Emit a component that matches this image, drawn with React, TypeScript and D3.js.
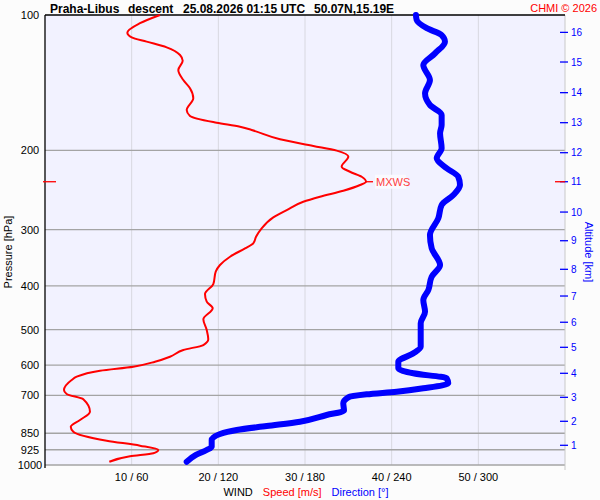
import React from "react";
import * as d3 from "d3";

// ---- data (pressure hPa / value) ----
const speedPressure = [100, 104.3, 109.5, 112.1, 114.6, 118.0, 122.7, 126.4, 132.5, 139.5, 145.5, 153.1, 162.6, 167.6, 173.5, 177.1, 180.1, 188.8, 195.4, 200.2, 206.4, 217.3, 223.0, 228.8, 234.7, 238.7, 245.8, 253.4, 260.0, 271.3, 281.6, 297.9, 311.0, 321.7, 330.0, 344.5, 359.4, 371.9, 396.1, 416.9, 433.6, 448.5, 474.5, 501.2, 525.6, 541.2, 555.2, 574.6, 589.5, 604.7, 617.2, 636.4, 647.3, 681.3, 695.4, 714.5, 761.3, 794.3, 822.0, 843.3, 883.1, 905.9, 926.1, 941.8, 956.6, 983.3];
const speedValues = [13.27, 10.96, 9.5, 10.0, 11.73, 14.04, 15.58, 15.89, 15.38, 15.96, 16.73, 17.11, 16.35, 16.73, 19.81, 22.5, 23.85, 27.12, 30.96, 33.66, 35.0, 34.23, 35.19, 36.54, 37.04, 36.35, 34.42, 31.73, 29.8, 27.89, 26.34, 25.0, 24.35, 24.03, 23.08, 21.35, 20.19, 19.7, 19.42, 18.46, 18.66, 19.35, 18.27, 18.66, 18.84, 18.27, 15.96, 14.42, 12.69, 10.19, 6.35, 3.66, 3.08, 2.19, 2.5, 4.42, 5.19, 4.04, 2.97, 3.27, 7.12, 10.96, 13.07, 12.5, 9.81, 7.42];

const dirPressure = [100, 102.6, 107.0, 110.8, 114.6, 121.7, 129.2, 139.5, 149.3, 158.5, 166.8, 175.5, 183.2, 197.7, 208.1, 219.1, 228.8, 238.7, 251.2, 264.4, 283.0, 308.3, 330.0, 359.4, 381.6, 408.4, 429.9, 456.4, 484.2, 545.9, 564.7, 589.5, 609.7, 625.5, 641.7, 658.3, 675.4, 687.3, 696.5, 707.3, 729.3, 757.0, 774.3, 801.2, 819.1, 836.0, 853.3, 879.9, 910.6, 926.1, 950.1, 983.3];
const dirValues = [256.8, 257.3, 264.3, 274.6, 276.9, 270.0, 261.9, 266.5, 263.1, 266.5, 274.6, 274.6, 273.5, 274.6, 271.2, 278.1, 286.1, 287.3, 282.7, 274.6, 272.3, 266.5, 267.7, 273.5, 267.7, 265.4, 261.9, 263.1, 260.1, 260.1, 255.0, 244.6, 244.6, 255.0, 278.1, 279.2, 261.9, 243.5, 222.7, 210.0, 206.5, 207.0, 195.0, 176.5, 153.5, 132.7, 121.2, 115.4, 115.4, 111.9, 104.5, 98.1];

const pressureTicks = [100, 200, 300, 400, 500, 600, 700, 850, 925, 1000];
const speedTicks = [10, 20, 30, 40, 50];
const dirTicks = [60, 120, 180, 240, 300];
const altitudeKm = [1, 2, 3, 4, 5, 6, 7, 8, 9, 10, 11, 12, 13, 14, 15, 16];
const altitudePressure = [904.1, 799.6, 707.3, 625.5, 547.6, 481.7, 421.2, 367.4, 317.4, 274.1, 234.7, 202.3, 173.5, 148.8, 127.2, 109.3];

const maxWindPressure = 234.7;
const maxWindSpeed = 37.04;

const titleParts = ["Praha-Libus", "descent", "25.08.2026 01:15 UTC", "50.07N,15.19E"];
const titleX = [50, 128, 183, 314];

export default function App() {
  React.useEffect(() => {
    document.body.style.margin = "0";
    document.body.style.background = "#fcfcfc";
  }, []);

  const W = 600, H = 500;
  const left = 45, right = 565, top = 15, bottom = 465;
  const font = "'Liberation Sans', Arial, sans-serif";

  const y = d3.scaleLog().domain([100, 1000]).range([top, bottom]);
  const xs = d3.scaleLinear().domain([0, 60]).range([left, right]);
  const xd = d3.scaleLinear().domain([0, 360]).range([left, right]);

  const speedLine = d3.line<number>()
    .x((_, i) => xs(speedValues[i]))
    .y((_, i) => y(speedPressure[i]))
    .curve(d3.curveMonotoneY);
  const dirLine = d3.line<number>()
    .x((_, i) => xd(dirValues[i]))
    .y((_, i) => y(dirPressure[i]))
    .curve(d3.curveMonotoneY);

  const mwY = y(maxWindPressure);
  const mwX = xs(maxWindSpeed);

  return (
    <svg width={W} height={H} style={{ position: "absolute", left: 0, top: 0, background: "#fcfcfc" }} fontFamily={font}>
      <rect x={0} y={0} width={W} height={H} fill="#fcfcfc" />
      <rect x={left} y={top} width={right - left} height={bottom - top} fill="#f2f2ff" />
      {/* vertical grid */}
      {speedTicks.map((t) => (
        <line key={"v" + t} x1={xs(t)} x2={xs(t)} y1={top} y2={bottom} stroke="#d8d8e0" strokeWidth={1} />
      ))}
      {/* horizontal grid */}
      {pressureTicks.slice(1).map((p) => (
        <line key={"h" + p} x1={left} x2={right} y1={y(p)} y2={y(p)} stroke="#a4a4a4" strokeWidth={1.3} />
      ))}
      {/* right border */}
      <line x1={right} x2={right} y1={top} y2={bottom + 5} stroke="#c8c8c8" strokeWidth={1} />
      {/* top & left borders */}
      <line x1={left} x2={right} y1={top} y2={top} stroke="#000" strokeWidth={1.3} />
      <line x1={left} x2={left} y1={top} y2={bottom + 3} stroke="#000" strokeWidth={1.3} />

      {/* pressure labels */}
      {pressureTicks.map((p) => (
        <text key={"pl" + p} x={30} y={y(p) + 4} fontSize={11} textAnchor="middle" fill="#000">{p}</text>
      ))}
      <text transform={`translate(12,252) rotate(-90)`} fontSize={11} textAnchor="middle" fill="#000">Pressure [hPa]</text>

      {/* x labels */}
      {speedTicks.map((t, i) => (
        <text key={"xl" + t} x={xs(t)} y={481} fontSize={11} textAnchor="middle" fill="#000">{`${t} / ${dirTicks[i]}`}</text>
      ))}
      <text x={306} y={496} fontSize={11} textAnchor="middle">
        <tspan fill="#000">WIND</tspan>
        <tspan fill="#ff0000" dx={10}>Speed [m/s]</tspan>
        <tspan fill="#0000ff" dx={10}>Direction [°]</tspan>
      </text>

      {/* altitude axis */}
      {altitudeKm.map((k, i) => (
        <g key={"alt" + k}>
          <line x1={560} x2={568} y1={y(altitudePressure[i])} y2={y(altitudePressure[i])} stroke="#0000ff" strokeWidth={1.3} />
          <text x={571} y={y(altitudePressure[i]) + 3.5} fontSize={10} fill="#0000ff">{k}</text>
        </g>
      ))}
      <text transform={`translate(585,252) rotate(90)`} fontSize={11} textAnchor="middle" fill="#0000ff">Altitude [km]</text>

      {/* max wind markers */}
      <line x1={43} x2={56} y1={mwY} y2={mwY} stroke="#ff0000" strokeWidth={1.3} />
      <line x1={555} x2={565} y1={mwY} y2={mwY} stroke="#ff0000" strokeWidth={1.3} />

      {/* data */}
      <path d={dirLine(dirValues) || ""} fill="none" stroke="#0000ff" strokeWidth={6} strokeLinejoin="round" strokeLinecap="round" />
      <path d={speedLine(speedValues) || ""} fill="none" stroke="#ff0000" strokeWidth={2} strokeLinejoin="round" />

      <line x1={mwX} x2={mwX + 7} y1={mwY} y2={mwY} stroke="#ff0000" strokeWidth={1.3} />
      <rect x={mwX + 9} y={mwY - 7} width={31} height={14} fill="#fafaff" />
      <text x={mwX + 10} y={mwY + 4} fontSize={11} fill="#ff4040">MXWS</text>

      {/* title */}
      {titleParts.map((t, i) => (
        <text key={"t" + i} x={titleX[i]} y={13} fontSize={12} fontWeight="bold" fill="#000">{t}</text>
      ))}
      <text x={597} y={12} fontSize={11} textAnchor="end" fill="#ff0000">CHMI © 2026</text>
    </svg>
  );
}
